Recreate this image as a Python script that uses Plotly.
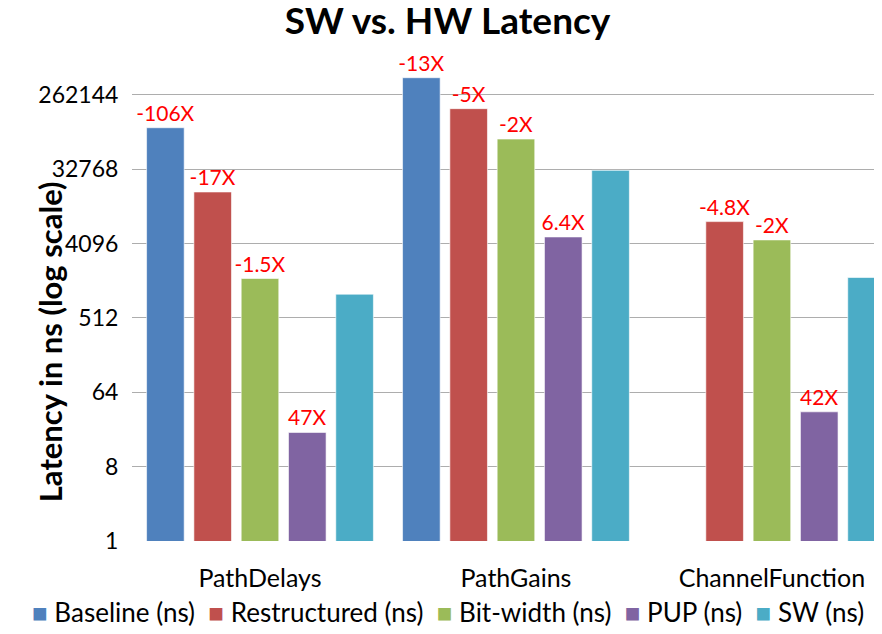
import plotly.graph_objects as go

categories = ["PathDelays", "PathGains", "ChannelFunction"]

baseline = [104000, 421000, None]
restructured = [17260, 177300, 7540]
bitwidth = [1536, 75800, 4520]
pup = [20.8, 4910, 37.0]
sw = [991, 31600, 1580]

baseline_lbl = ["-106X", "-13X", ""]
restructured_lbl = ["-17X", "-5X", "-4.8X"]
bitwidth_lbl = ["-1.5X", "-2X", "-2X"]
pup_lbl = ["47X", "6.4X", "42X"]

tick_vals = [1, 8, 64, 512, 4096, 32768, 262144]

FONT = "Lato, Open Sans, sans-serif"

series = [
    ("Baseline (ns)", baseline, baseline_lbl, "#4F81BD"),
    ("Restructured (ns)", restructured, restructured_lbl, "#C0504D"),
    ("Bit-width (ns)", bitwidth, bitwidth_lbl, "#9BBB59"),
    ("PUP (ns)", pup, pup_lbl, "#8064A2"),
    ("SW (ns)", sw, None, "#4BACC6"),
]

fig = go.Figure()
for name, vals, lbl, col in series:
    fig.add_trace(go.Bar(
        x=categories, y=vals, name=name, showlegend=False,
        marker=dict(color=col, line=dict(color="rgba(255,255,255,0.6)", width=1)),
        text=lbl, textposition="outside" if lbl else "none",
        textfont=dict(color="#FF0000", size=21, family=FONT),
        constraintext="none", cliponaxis=False,
    ))

# the native horizontal legend wraps at this font size, so build it as one text line
legend_txt = "  ".join(
    f'<span style="color:{col}">■</span> {name}' for name, _, _, col in series
)

# page body adds an 8px offset, so the figure is laid out in 874x626
fig.update_layout(
    width=874, height=626,
    margin=dict(l=124, r=0, t=47, b=93, autoexpand=False),
    plot_bgcolor="white", paper_bgcolor="white",
    barmode="group", bargap=0.076, bargroupgap=0.205,
    font=dict(family=FONT, color="#000000"),
    title=dict(text="<b>SW vs. HW Latency</b>", x=0.503, xanchor="center",
               y=1, yanchor="top", pad=dict(t=0, b=0),
               font=dict(size=37, family=FONT)),
    xaxis=dict(range=[-0.5, 2.43], showgrid=False, showline=False,
               ticks="outside", ticklen=15, tickcolor="rgba(0,0,0,0)",
               tickfont=dict(size=25)),
    yaxis=dict(type="log", range=[0, 5.9], tickvals=tick_vals,
               ticktext=[str(v) for v in tick_vals],
               showgrid=True, gridcolor="#ADADAD", gridwidth=1.3,
               zeroline=False, showline=False, tickfont=dict(size=23),
               ticks="outside", ticklen=8, tickcolor="rgba(0,0,0,0)"),
    annotations=[
        dict(text="<b>Latency in ns (log scale)</b>", textangle=-90,
             xref="paper", yref="paper", x=-0.138, y=0.41,
             showarrow=False, font=dict(size=31, family=FONT)),
        dict(text=legend_txt, xref="paper", yref="paper",
             x=(440 - 124) / 750, y=-71 / 486, xanchor="center", yanchor="middle",
             showarrow=False, font=dict(size=26, family=FONT)),
    ],
)

fig.write_html("out.html")
